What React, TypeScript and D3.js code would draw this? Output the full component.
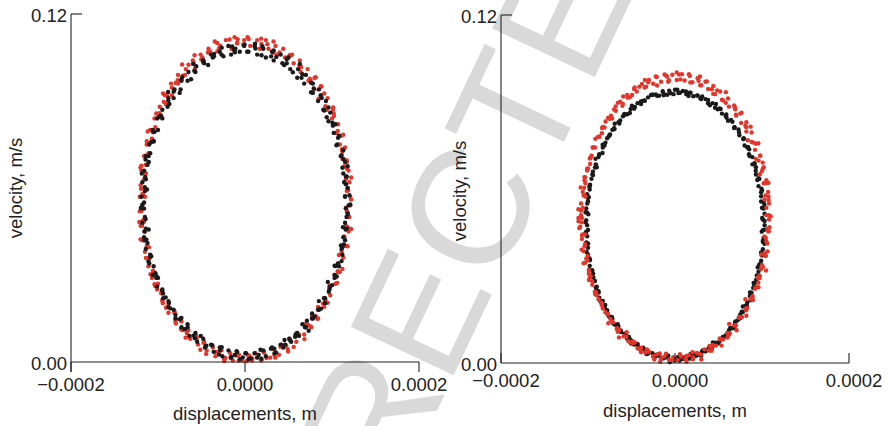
import React from 'react';
import * as d3 from 'd3';

const xTickValues = [-0.0002, 0, 0.0002];
const xTickLabels = ['\u22120.0002', '0.0000', '0.0002'];
const yTickValues = [0, 0.12];
const yTickLabels = ['0.00', '0.12'];
const xTitle = 'displacements, m';
const yTitle = 'velocity, m/s';
const watermark = 'CORRECTED';

// [displacement in µm, velocity in mm/s]
const leftBlack: [number, number][] = [
  [119,54],[115,57],[118,60],[114,62],[117,64],[112,67],[115,69],[110,71],[113,73],[106,75],[108,78],[102,79],[104,82],[96,83],[98,86],[90,87],[93,90],[84,90],[85,94],[76,93],[78,96],[68,96],[70,99],[60,98],[61,101],[52,101],[50,105],[43,103],[41,106],[33,104],[31,107],[24,105],[21,108],[14,106],[11,109],[4,107],
  [-1,109],[-6,107],[-11,108],[-16,106],[-19,109],[-27,106],[-29,107],[-37,105],[-39,106],[-47,103],[-48,104],[-56,102],[-57,100],[-65,100],[-66,97],[-73,97],[-74,94],[-81,94],[-82,91],[-88,91],[-89,88],[-95,87],[-95,84],[-101,84],[-100,80],[-106,80],[-105,76],[-110,75],[-109,72],[-114,71],[-112,68],[-116,66],[-114,63],[-118,62],[-115,59],[-119,57],
  [-116,55],[-119,53],[-115,50],[-118,48],[-114,46],[-116,43],[-112,41],[-114,39],[-109,37],[-110,34],[-105,33],[-106,30],[-100,29],[-101,26],[-95,25],[-94,22],[-88,21],[-88,19],[-82,18],[-80,15],[-74,15],[-73,12],[-66,12],[-64,9],[-57,10],[-55,7],[-48,8],[-46,5],[-39,6],[-36,3.5],[-29,5],[-26,2],[-19,4],[-16,1.5],[-9,3.5],[-6,1],
  [1,3],[4,1],[11,3],[14,1.5],[21,4],[24,2],[31,5],[34,3],[41,6],[44,5],[51,8],[53,7],[60,10],[62,9],[69,12],[70,12],[77,15],[78,15],[84,18],[85,18],[91,22],[92,22],[97,25],[98,26],[103,29],[103,30],[108,33],[107,34],[112,37],[111,39],[115,42],[113,43],[117,46],[115,48],[118,51],[116,53],
  [115,57.2],[120,57.5],[116,61.3],[113,65],[116,64],[118,67.5],[111,71.3],[113,70],[105,74.7],[107,77.3],[108,77.9],[100.5,82.5],[101,81.5],[94,84.4],[96,87.8],[91,86.7],[87,92],[88,91.1],[79,94.3],[78,92.8],[76,96.3],[66,99.2],[65,98],[63,102.8],[55,99.9],[48,103],[48,104.5],[45,102.4],[36,105.2],[33,107.4],[30,105.4],[20,108.9],[19,105.8],[12,108.1],[11.6,109.8],[2.5,107],
  [-0.5,109.5],[-11.6,106.8],[-12.7,107.6],[-14.8,108.8],[-24.8,105.4],[-26.8,108.4],[-35.7,105.4],[-35.6,106.2],[-42.4,102.4],[-48.1,103.5],[-47.8,104],[-58.3,100.4],[-59.6,102.8],[-62,97.5],[-72.2,98.2],[-73.2,97.3],[-75.1,92.8],[-81.9,93.3],[-88.4,93.1],[-86.9,89],[-88.2,90.2],[-96.3,84.8],[-97.2,84.9],[-98,84.5],[-105.5,79.5],[-103.9,79.4],[-108,75.8],[-105,76.2],[-110.8,71],[-114.3,69.8],[-110.6,69],[-114.7,63.8],[-118.6,65],[-115.2,60.3],[-112.7,59.5],[-118,54.2],
  [-116,52.9],[-119.7,53.1],[-114.2,49.3],[-115.6,45],[-110.7,45.7],[-115.6,42],[-113.3,42.2],[-107.8,36.5],[-109,36.3],[-111,34.7],[-102.9,30.6],[-101.5,29.5],[-102,29],[-94.2,23.6],[-95.3,24.7],[-91.2,22.3],[-85.9,18.5],[-87.4,20.4],[-79.9,16.2],[-73.1,15.2],[-75.2,14.7],[-69.2,11.3],[-66,13],[-57.6,8.2],[-59.3,9.1],[-50.8,9],[-45.1,5.5],[-44.4,5.6],[-37.6,5.8],[-29.7,2.6],[-28.8,4.1],[-26.8,5.1],[-15.8,1.7],[-11.7,2.4],[-9.6,3.7],[-2.5,1.6],
  [0.5,3.05],[6.6,1.2],[15.7,2.4],[17.8,4.2],[18.8,1.1],[29.8,4.6],[33.7,4.6],[35.6,3.3],[45.4,7.6],[46.1,6],[51.8,7.5],[58.3,9.6],[57.6,8.7],[66,13],[73.2,10.8],[71.2,14.2],[77.1,16.7],[79.9,15.7],[87.4,18.4],[84.9,21],[92.2,20.3],[96.3,24.2],[95.2,27.6],[100,26.5],[105.5,29.5],[103.9,33.1],[103,33.2],[111,34.8],[111.8,39.5],[110.3,40.2],[113.6,40.5],[115.7,45.7],[112.6,46.5],[118.2,51.25],[116.7,50],[121,54.3],
];

const leftRed: [number, number][] = [
  [121,57],[117,59],[120,62],[116,63],[119,66],[117,69],[112,70],[115,74],[109,75],[111,78],[105,79],[107,82],[100,84],[101,87],[94,87],[95,91],[88,91],[88,95],[80,94],[80,98],[73,97],[72,101],[64,100],[63,104],[56,103],[54,106],[46,105],[44,108],[37,106],[35,109],[27,108],[24,111],[17,108],[14,111],[6,109],[3,112],
  [-1,111],[-9,110],[-12,112],[-19,109],[-22,111],[-30,108],[-32,110],[-40,107],[-42,108],[-49,105],[-51,106],[-59,103],[-60,104],[-68,101],[-69,99],[-77,99],[-77,96],[-85,96],[-84,92],[-92,92],[-91,89],[-98,88],[-97,85],[-104,84],[-103,81],[-109,80],[-107,77],[-113,75],[-111,72],[-116,71],[-114,68],[-119,66],[-116,63],[-120,61],[-117,58],[-121,57],
  [-118,54],[-121,52],[-117,49],[-120,47],[-115,45],[-118,42],[-113,40],[-115,38],[-110,36],[-111,33],[-105,31],[-107,29],[-100,27],[-101,25],[-95,24],[-95,21],[-88,20],[-88,17],[-81,17],[-80,14],[-73,14],[-72,11],[-65,11],[-63,8],[-56,9],[-54,6],[-47,7],[-44,4],[-37,5],[-34,2],[-27,4],[-24,1],[-17,3],[-14,0.5],[-7,2.5],[-3,0.5],
  [3,2.5],[8,0.5],[12,3],[19,0.8],[22,3.5],[29,1.5],[32,4.5],[39,2.5],[42,6],[49,4.5],[51,8],[59,7],[60,10],[68,9.5],[69,13],[76,12],[77,16],[84,15],[84,19],[91,19],[91,22],[98,23],[97,26],[104,27],[103,30],[109,31],[107,34],[113,36],[111,38],[116,40],[114,43],[119,45],[116,47],[120,50],[117,52],[121,54],
  [122,56],[117.9,59.9],[118.5,59.2],[122,63.6],[114.2,67.5],[117.1,66.7],[116.9,69.6],[111.5,73.4],[111.9,72.6],[112.9,78.4],[103.8,79],[106.6,79.7],[102,85.7],[102.3,84.8],[101.4,87.8],[92.4,88.2],[91.1,92.6],[84.7,90.8],[87.1,95.1],[81.4,98.2],[75.5,97.2],[74.5,97.7],[64.3,101.6],[63.9,102],[62.5,102.2],[53,105.8],[51.3,105.8],[49.6,104.9],[39.7,106.7],[32.8,110.5],[32.8,106.6],[25.7,109.6],[18.7,109.7],[18.6,111.5],[11.4,108.8],[4.2,111.4],
  [-2,109.5],[-9.2,109.9],[-8.4,111.3],[-15.6,108],[-17.7,111.2],[-28.7,109.1],[-31.8,107.1],[-34.8,110.5],[-42.7,106.7],[-41.6,106.9],[-50.3,104.3],[-58,105.8],[-57.5,101.2],[-64.9,102.5],[-72.3,102.6],[-71.5,98.7],[-79.5,96.2],[-77.4,97.2],[-84.1,94.6],[-89.7,91.8],[-94.1,92.6],[-93.4,89.7],[-98.4,85.8],[-99.3,84.8],[-102,85.7],[-105.6,79.2],[-111.8,79.5],[-106.9,76.9],[-112.9,76.1],[-115.5,70.9],[-114.9,71.1],[-119.1,67.7],[-120.2,67],[-114,65.1],[-119.5,59.7],[-117.9,57.9],
  [-115,57],[-118.9,52.1],[-121.5,48.3],[-116,48.4],[-118.2,47],[-120.1,42.3],[-113.9,41.9],[-110.5,39.6],[-113.9,35.9],[-109.9,35.6],[-105.8,31.5],[-108.6,30.3],[-104,26.8],[-103.3,26.2],[-96.4,23.7],[-94.4,20.3],[-95.1,21.4],[-90.7,18.7],[-81.1,17.4],[-79.4,13.3],[-79.5,14.8],[-73.5,11.3],[-68.3,8.4],[-66.9,10],[-55.5,8.3],[-56,8.2],[-51.3,4.2],[-47.6,6.6],[-44.7,2.8],[-33.8,3.5],[-30.8,3.4],[-22.7,1.4],[-23.7,0.3],[-16.6,1.5],[-9.4,2.2],[-7.2,0.4],
  [2,0.3],[5.2,2.1],[8.4,1.2],[18.6,0.5],[21.7,3.3],[24.7,1.4],[33.8,2.4],[34.8,1.5],[40.7,5.3],[49.6,3.6],[47.3,5.7],[56,5.2],[61.5,9.3],[61.9,9.5],[68.3,7.9],[75.5,12.3],[72.5,12.8],[81.4,15.8],[83.1,14.9],[89.7,20.2],[95.1,20.4],[92.4,21.3],[97.4,25.7],[97.3,26.2],[106,27.3],[106.6,31.3],[106.8,31],[111.9,32.1],[107.9,36.9],[113.5,40.1],[117.9,39.9],[114.1,43.3],[118.2,46.5],[122,45.9],[117.5,51.8],[115.9,53.1],
];

const rightBlack: [number, number][] = [
  [103,47.5],[101,49.5],[103,51.5],[100,53.5],[102,55.5],[99,57.5],[100,59.5],[96,61],[97,63.5],[93,65],[93,67.5],[89,68.5],[89,71],[85,72],[84,74.5],[80,75],[79,77.5],[74,78.5],[73,80.5],[68,81],[66,83.2],[61,83.5],[59,85.7],[54,86],[51,87.8],[46,88],[43,89.6],[38,89.6],[35,91],[30,91],[26,92.3],[21,92],[17,93.2],[13,92.7],[9,93.8],[4,93.1],
  [0,94.2],[-5,93],[-9,92.5],[-13,92.3],[-18,92.2],[-22,92.6],[-26,92.5],[-31,91.6],[-35,90.5],[-39,89.3],[-43,89.6],[-47,87.7],[-51,87.6],[-55,85.8],[-58,85.6],[-63,83.6],[-65,83],[-70,81],[-72,80.4],[-76,78.2],[-78,77.5],[-81,75],[-83,74.3],[-87,72],[-88,71],[-91,68.5],[-92,67.4],[-95,65],[-96,63.5],[-98,61],[-98,59.8],[-100,57],[-100,55.8],[-102,53.3],[-101,51.8],[-102,49.2],
  [-101,47.5],[-102,45.3],[-101,43.7],[-102,41.3],[-100,39.7],[-100,37.4],[-98,35.8],[-98,33.5],[-95,32],[-95,29.6],[-92,28.3],[-91,26],[-88,24.8],[-87,22.5],[-83,21.4],[-81,19.2],[-78,18.2],[-76,16.1],[-72,15.3],[-69,13.2],[-65,12.6],[-62,10.7],[-58,10.1],[-55,8.4],[-51,8],[-47,6.4],[-43,6.1],[-39,4.7],[-35,4.6],[-31,3.3],[-26,3.4],[-22,2.3],[-18,2.5],[-13,1.6],[-9,1.9],[-6,0.3],
  [0,1.2],[5,1.8],[9,1.4],[13,2.2],[18,1.9],[22,2.9],[27,2.8],[31,3.9],[35,4],[39,5.3],[43,5.5],[47,7],[51,7.4],[55,9],[58,9.5],[62,11.3],[66,12],[69,13.9],[72,14.7],[75,16.7],[78,17.6],[81,19.8],[83,20.8],[86,23.1],[88,24.2],[91,26.5],[92,27.7],[94,30.2],[96,31.5],[97,34],[99,35.3],[99,37.9],[101,39.2],[101,41.8],[102,43.2],[101,45.8],
  [103,49],[100.2,50],[101.8,53.3],[102.8,54.5],[99,55.7],[99,58.9],[99.4,60.1],[94.6,63.1],[96.1,63.7],[92.8,66.3],[91.4,68.6],[91.4,68.9],[85.7,71.4],[85.3,73.7],[83.2,74.3],[78.5,77.2],[78.7,77.2],[73.6,79.5],[68.5,81.2],[68.3,81.3],[64.4,83.8],[59.3,84.6],[58.2,85.2],[52.4,87.6],[49.1,87.5],[47.1,89.3],[40.1,88.9],[38,90.7],[31.3,91.9],[29.1,91.3],[25.2,92.2],[17.9,93.2],[15.6,92.1],[12.6,93.6],[5.7,93.2],[2.7,94.2],
  [-1.7,92.7],[-6.7,93.9],[-13.1,92.9],[-14.1,93.7],[-20.4,92.1],[-25.2,92.5],[-27.6,92.4],[-34.8,90.4],[-37,90.4],[-39.1,90.2],[-46.1,88.3],[-49.6,88.7],[-51.9,86.2],[-58.2,85.9],[-59.8,85.1],[-63.9,82.6],[-69.3,82.5],[-69.5,80.7],[-74.6,78.8],[-75.2,78.6],[-80,76],[-83.2,75.3],[-83.3,72.4],[-87.2,71.7],[-91.4,70.4],[-89.9,67.5],[-94.3,66],[-94.1,64.8],[-97.6,61.5],[-98.4,60.8],[-101,58.2],[-99,57.2],[-100.8,55],[-102.8,52],[-99.7,51.3],[-103,48.5],
  [-100,45.9],[-102.7,44.9],[-101.8,41.6],[-99.8,41.1],[-101.5,38.3],[-98.5,36.1],[-97.9,35.4],[-98.6,32.3],[-94.1,30.8],[-93.8,29.5],[-89.9,26.3],[-90.4,25.1],[-87.7,24.3],[-85.8,21.3],[-80.2,20],[-81,19.1],[-77.7,17.2],[-72.6,15.9],[-71,13.6],[-65.8,13.4],[-64.9,11.1],[-62.3,11.2],[-55.7,9.3],[-52.9,9],[-50.6,6.7],[-43.1,6.6],[-42.1,5.1],[-36.5,5.3],[-32.8,3.1],[-30.6,3.8],[-22.7,2.8],[-20.4,2.9],[-15.6,1.5],[-10.1,2.2],[-7.7,2.5],[-1.2,0.9],
  [3.2,2],[5.2,0.8],[11.6,2.1],[16.6,1.5],[17.9,3.1],[24.2,2.5],[30.1,2.5],[31.8,4.3],[37.5,4.6],[42.1,4.8],[43.6,7.1],[49.6,6.8],[54.9,8.4],[55.7,8.6],[61.8,9.9],[63.4,12.1],[68.3,12.1],[69.5,14.3],[75.1,15.4],[76.7,17.7],[78,19.5],[82.7,19.7],[86.8,21.6],[86.2,24.3],[89.9,25.9],[90.4,27.6],[93.3,28.7],[97.1,30],[95.1,33],[98.4,34.2],[100,37.1],[99,38.1],[102.8,41.1],[101.3,42.3],[99.7,45.3],[103,46],
];

const rightRed: [number, number][] = [
  [108,51],[105,53.5],[108,55],[104,57.8],[107,59],[102,62],[105,63],[100,66.2],[102,67.5],[96,69.8],[98,71.5],[92,73.5],[93,75.6],[88,76.2],[88,79.5],[82,79.8],[82,83],[76,82.8],[75,86],[70,85.6],[68,88.8],[62,88.4],[61,91.2],[54,90.8],[52,93.6],[46,92.7],[44,95.5],[38,94.5],[35,97],[29,95.8],[26,98.2],[20,96.8],[17,99],[11,97.4],[8,99.6],[2,97.6],
  [-3,99.4],[-7,97.5],[-12,99.5],[-16,97],[-21,98.6],[-25,96.3],[-30,97.6],[-35,95],[-38,96.2],[-44,93.6],[-47,94.5],[-52,91.6],[-55,92.4],[-60,89.4],[-63,90.1],[-68,87],[-70,87.4],[-75,84.2],[-77,84.5],[-81,81.2],[-83,81.4],[-87,78],[-89,77.9],[-92,74.3],[-94,74.3],[-97,70.8],[-98,70.5],[-101,67],[-101,66.4],[-104,63],[-103,62],[-106,59],[-105,57.8],[-108,55],[-106,53.5],[-108,51],
  [-107,48.5],[-109,47],[-106,44.3],[-107,42.8],[-104,40.2],[-105,38.6],[-102,36],[-103,34.6],[-99,32],[-99,30.8],[-95,28.1],[-95,27],[-91,24.4],[-90,23.4],[-85,20.9],[-84,19.9],[-80,17.5],[-78,16.9],[-73,14.5],[-71,14],[-67,11.7],[-64,11.3],[-59,9.2],[-56,9],[-51,7],[-48,6.9],[-43,5.1],[-39,5.3],[-34,3.6],[-30,3.9],[-25,2.4],[-21,2.9],[-16,1.6],[-12,2.3],[-7,1.1],[-2,2],
  [3,1],[7,2.2],[12,1.3],[16,2.7],[21,1.9],[25,3.5],[30,2.9],[34,4.7],[39,4.3],[43,6.2],[47,6],[52,8.1],[55,8.1],[60,10.4],[63,10.3],[68,12.9],[70,13],[75,15.7],[77,15.9],[81,18.7],[83,19],[87,22],[88,22.5],[92,25.6],[93,26.1],[97,29.2],[97,29.9],[101,33.1],[100,33.8],[104,37.1],[103,37.9],[106,41.2],[105,42],[107,45.4],[106,46.2],[108,49.5],
  [105,51],[109.9,50.6],[107.6,56.2],[103,56.4],[107.4,57.4],[104.4,62],[107.4,62.1],[101.1,67.1],[97.6,65.1],[100.9,69.1],[97.9,71.5],[92.9,70.4],[95.7,75.8],[90.2,76],[83.6,76.8],[86.9,81.5],[81,81.7],[81.9,81.3],[76.6,86.3],[70.3,85.3],[68.8,88.2],[69.2,87.5],[58.4,89.7],[58.5,93.4],[55.5,90.5],[48.4,94],[42.3,94.4],[44,92.8],[36.6,97.1],[30.2,95.8],[28.7,98.8],[27.1,97.3],[17.6,96.7],[16,99.6],[6.3,97.8],[4.7,99.5],
  [2,100.2],[-7.7,97],[-9.3,98.8],[-10,99.1],[-20.6,95.7],[-22.1,98.8],[-30.7,96.8],[-33.2,95.3],[-34.6,97.6],[-41,95.3],[-49.3,92.4],[-46.4,95],[-54.5,91.5],[-59.5,91.9],[-60.4,88.7],[-68.2,88.5],[-65.8,89.7],[-72.3,84.3],[-73.6,85.3],[-79.9,83.3],[-84,79.2],[-83.9,81],[-91.6,77.3],[-87.2,78],[-94.7,74.3],[-95.9,71.4],[-95.9,71.5],[-99.9,67.1],[-97.6,68.6],[-104.1,64.1],[-103.4,64.1],[-108.4,60.5],[-104.4,60.4],[-103,57.4],[-108.6,52.7],[-107.9,52.6],
  [-107,50],[-110.9,48.9],[-103.6,44.3],[-107,44.1],[-107.4,39.1],[-103.4,41],[-100.4,36.9],[-105.1,34.4],[-100.6,35.4],[-96.9,29.9],[-97.9,29.5],[-98.9,28.6],[-91.7,23.7],[-92.2,24.5],[-84.6,20.7],[-87.9,22],[-83,18.8],[-76.9,16.7],[-76.6,13.7],[-74.3,15.2],[-65.8,10.8],[-66.2,12],[-64.4,8.8],[-55.5,10.6],[-53.5,7.5],[-48.4,7.5],[-46.3,7.1],[-39,3.7],[-39.6,4.4],[-32.2,4.7],[-23.7,1.2],[-25.1,2.2],[-17.6,3.3],[-17,0.4],[-10.3,3.2],[-5.7,1],
  [-2,1],[5.7,3],[13.3,0.4],[13,2.4],[20.6,1.3],[20.1,3.7],[27.7,3.2],[30.2,1.2],[39.6,5.9],[42,4.2],[42.3,5.6],[51.4,8.5],[53.5,6],[61.5,9.6],[60.4,8.8],[62.2,13.5],[70.8,11.3],[73.3,15.7],[73.6,15.7],[81.9,18.2],[82,16.3],[80.9,22],[89.6,21.7],[89.2,23],[95.7,27.7],[95.9,26.1],[94.9,29.5],[98.9,32.4],[104.6,31.9],[99.1,37.4],[104.4,36.9],[106.4,38.5],[104.4,43.1],[103,43.6],[108.6,46.8],[107.9,45.4],
  [-111,50],[-110,46.5],[-111,53],
];

const RED = '#e3362b';
const BLACK = '#1a1a1a';
const AXIS = '#222';
const FONT = '"Liberation Sans", Arial, Helvetica, sans-serif';

type PanelProps = {
  x0: number; x1: number; yTop: number; yBottom: number;
  series: { data: [number, number][]; color: string }[];
  tickDown: boolean; tickLabelBaseline: number; tickLabelShift: number;
  yLabelRight: number; xTitleBaseline: number; yTitleX: number; yTitleY: number;
};

function Panel(p: PanelProps) {
  const x = d3.scaleLinear().domain([xTickValues[0], xTickValues[2]]).range([p.x0, p.x1]);
  const y = d3.scaleLinear().domain([yTickValues[0], yTickValues[1]]).range([p.yBottom, p.yTop]);
  const tl = 10;
  return (
    <g fontFamily={FONT} fill="#222">
      {p.series.map((s, si) => (
        <g key={si}>
          {s.data.map((d, i) => (
            <circle key={i} cx={x(d[0] * 1e-6)} cy={y(d[1] * 1e-3)} r={2.2} fill={s.color} />
          ))}
        </g>
      ))}
      <line x1={p.x0} x2={p.x0} y1={y(yTickValues[1])} y2={p.tickDown ? p.yBottom + tl : p.yBottom} stroke={AXIS} strokeWidth={1.1} />
      <line x1={p.x0} x2={p.x0 + 11} y1={y(yTickValues[1])} y2={y(yTickValues[1])} stroke={AXIS} strokeWidth={1.1} />
      {yTickValues.map((v, i) => (
        <text key={i} x={p.yLabelRight} y={y(v) + (i === 0 ? 8 : 7.5)} textAnchor="end" fontSize={18.5}>{yTickLabels[i]}</text>
      ))}
      <line x1={p.x0} x2={p.x1} y1={p.yBottom} y2={p.yBottom} stroke={AXIS} strokeWidth={1.1} />
      {xTickValues.map((v, i) => (
        <line key={i} x1={x(v)} x2={x(v)} y1={p.yBottom} y2={p.tickDown ? p.yBottom + tl : p.yBottom - tl} stroke={AXIS} strokeWidth={1.1} />
      ))}
      {xTickValues.map((v, i) => (
        <text key={i} x={x(v) + p.tickLabelShift} y={p.tickLabelBaseline} textAnchor="middle" fontSize={18.5}>{xTickLabels[i]}</text>
      ))}
      <text x={x(0)} y={p.xTitleBaseline} textAnchor="middle" fontSize={18.5}>{xTitle}</text>
      <text transform={`translate(${p.yTitleX},${p.yTitleY}) rotate(-90)`} textAnchor="middle" fontSize={18.5}>{yTitle}</text>
    </g>
  );
}

export default function App() {
  return (
    <svg width={889} height={426} style={{ position: 'absolute', left: 0, top: 0, background: '#fff' }}>
      <rect width={889} height={426} fill="#fff" />
      <text x={412} y={330} transform="rotate(-64.7 412 330)" textAnchor="middle" dominantBaseline="central"
        fontSize={165} fontFamily={FONT} fill="#d9d9d9">{watermark}</text>
      <Panel x0={71} x1={419} yTop={14} yBottom={362}
        series={[{ data: leftRed, color: RED }, { data: leftBlack, color: BLACK }]}
        tickDown={true} tickLabelBaseline={391} tickLabelShift={0}
        yLabelRight={67} xTitleBaseline={420} yTitleX={22} yTitleY={188} />
      <Panel x0={501} x1={849} yTop={15} yBottom={363}
        series={[{ data: rightBlack, color: BLACK }, { data: rightRed, color: RED }]}
        tickDown={false} tickLabelBaseline={387} tickLabelShift={5}
        yLabelRight={497} xTitleBaseline={417} yTitleX={466} yTitleY={191} />
    </svg>
  );
}
